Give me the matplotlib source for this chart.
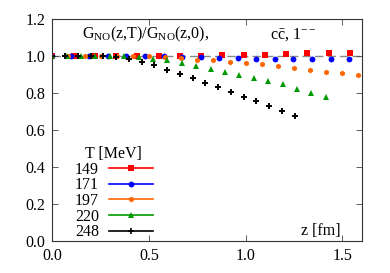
import matplotlib
matplotlib.use('Agg')
import matplotlib.pyplot as plt

plt.rcParams['font.family'] = ['Liberation Serif', 'DejaVu Serif']
plt.rcParams['mathtext.fontset'] = 'custom'
plt.rcParams['mathtext.rm'] = 'Liberation Serif'
plt.rcParams['mathtext.it'] = 'Liberation Serif:italic'

# temperatures (MeV) and their ratio data G_NO(z,T)/G_NO(z,0)
temps = ['149', '171', '197', '220', '248']

z_149 = [0.0, 0.11, 0.22, 0.33, 0.44, 0.55, 0.66, 0.77, 0.88, 0.99, 1.10, 1.21, 1.32, 1.43, 1.54]
r_149 = [1.0, 1.0, 1.0, 1.0, 1.0, 1.0, 1.0, 1.0, 1.002, 1.004, 1.005, 1.009, 1.013, 1.013, 1.015]

z_171 = [0.0, 0.096, 0.192, 0.288, 0.384, 0.48, 0.576, 0.672, 0.768, 0.864, 0.96,
         1.056, 1.152, 1.248, 1.344, 1.44, 1.536]
r_171 = [1.0, 1.0, 1.0, 1.0, 1.0, 0.999, 0.997, 0.994, 0.993, 0.989, 0.988,
         0.984, 0.984, 0.981, 0.982, 0.982, 0.982]

z_197 = [0.0, 0.083, 0.167, 0.25, 0.333, 0.417, 0.5, 0.583, 0.667, 0.75, 0.833,
         0.917, 1.0, 1.083, 1.167, 1.25, 1.333, 1.417, 1.5, 1.583]
r_197 = [1.0, 1.0, 1.0, 1.0, 1.0, 1.0, 0.998, 0.995, 0.986, 0.979, 0.974,
         0.968, 0.962, 0.953, 0.943, 0.933, 0.922, 0.913, 0.907, 0.897]

z_220 = [0.0, 0.0745, 0.149, 0.2235, 0.298, 0.3725, 0.447, 0.5215, 0.596, 0.6705,
         0.745, 0.8195, 0.894, 0.9685, 1.043, 1.1175, 1.192, 1.2665, 1.341, 1.4155]
r_220 = [1.0, 1.0, 1.0, 1.0, 1.0, 0.998, 0.992, 0.984, 0.977, 0.962,
         0.946, 0.928, 0.912, 0.894, 0.878, 0.863, 0.846, 0.822, 0.800, 0.779]

z_248 = [0.0, 0.066, 0.132, 0.198, 0.264, 0.33, 0.396, 0.462, 0.528, 0.594,
         0.66, 0.726, 0.792, 0.858, 0.924, 0.99, 1.056, 1.122, 1.188, 1.254]
r_248 = [1.0, 1.0, 1.0, 1.0, 0.998, 0.992, 0.981, 0.964, 0.948, 0.923,
         0.901, 0.878, 0.854, 0.829, 0.802, 0.779, 0.755, 0.729, 0.703, 0.676]

series = [
    (z_149, r_149, '#ff0000', 's', 4.0),
    (z_171, r_171, '#0000ff', 'o', 4.2),
    (z_197, r_197, '#ff6600', 'h', 4.0),
    (z_220, r_220, '#009900', '^', 3.8),
    (z_248, r_248, '#000000', '+', 5.0),
]

fig = plt.figure(figsize=(3.9, 2.73), dpi=100)
ax = fig.add_axes([0.134, 0.117, 0.793, 0.815])

ax.axhline(1.0, color='#888888', lw=1.0, dashes=(6, 3), zorder=1)

handles = []
for (z, r, col, mk, ms), lab in zip(series, temps):
    ax.plot(z, r, ls='none', marker=mk, color=col, ms=ms,
            mew=1.4 if mk == '+' else 0, zorder=2)
    h, = ax.plot([], [], ls='-', lw=1.2, marker=mk, color=col, ms=ms,
                 mew=1.2 if mk == '+' else 0, label=lab)
    handles.append(h)

ax.set_xlim(0, 1.6)
ax.set_ylim(0, 1.2)
ax.set_xticks([0.0, 0.5, 1.0, 1.5])
ax.set_yticks([0.0, 0.2, 0.4, 0.6, 0.8, 1.0, 1.2])
ax.xaxis.set_major_formatter(matplotlib.ticker.FormatStrFormatter('%.1f'))
ax.yaxis.set_major_formatter(matplotlib.ticker.FormatStrFormatter('%.1f'))
ax.tick_params(direction='in', top=True, right=True, length=4, width=0.6,
               labelsize=11.5, pad=5, color='#444444')
for s in ax.spines.values():
    s.set_linewidth(0.8)
    s.set_color('#333333')

ax.text(0.153, 1.094, r'G$_{\mathrm{NO}}$(z,T)/G$_{\mathrm{NO}}$(z,0),', fontsize=11.5,
        va='baseline', ha='left')
ax.text(1.124, 1.094, r'c$\bar{\mathrm{c}}$, 1$^{--}$', fontsize=11.5,
        va='baseline', ha='left')
ax.text(1.288, 0.031, 'z [fm]', fontsize=11.5, va='baseline', ha='left')

leg = ax.legend(handles=handles, title='T [MeV]', loc='upper left',
                bbox_to_anchor=(75 / 390, 1 - 146 / 273), bbox_transform=fig.transFigure,
                frameon=False, markerfirst=False, fontsize=11.5, title_fontsize=11.5,
                handlelength=2.75, handletextpad=0.6, labelspacing=-0.02,
                borderpad=0, borderaxespad=0, numpoints=1)

fig.savefig('out.png', dpi=100)
